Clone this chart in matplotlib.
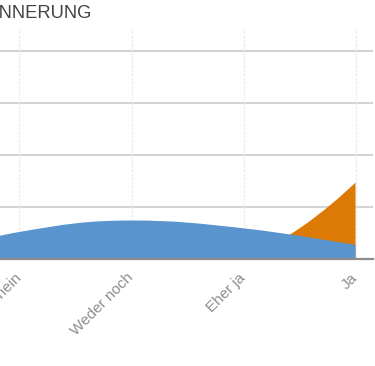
import numpy as np
import matplotlib
matplotlib.use("Agg")
import matplotlib.pyplot as plt
from matplotlib.path import Path
from matplotlib.patches import PathPatch

plt.rcParams['font.family'] = ['Liberation Sans', 'DejaVu Sans']

title = "ERINNERUNG"
categories = ["Nein", "Eher nein", "Weder noch", "Eher ja", "Ja"]
series_blue = [0.0, 5.2, 7.4, 5.9, 2.7]
series_orange = [0.0, 0.0, 0.0, 1.0, 14.7]
y_ticks = [10, 20, 30, 40]

blue = "#5a94cf"
orange = "#dc7a05"


def spline_area(xs, ys, smoothing=1.5):
    # smooth top edge built from cubic bezier segments, flat bottom at 0
    n = len(xs)
    left = [None] * n
    right = [None] * n
    denom = smoothing + 1
    for i in range(1, n - 1):
        x, y = xs[i], ys[i]
        lx, ly = xs[i - 1], ys[i - 1]
        nx, ny = xs[i + 1], ys[i + 1]
        lcx = (smoothing * x + lx) / denom
        lcy = (smoothing * y + ly) / denom
        rcx = (smoothing * x + nx) / denom
        rcy = (smoothing * y + ny) / denom
        corr = (rcy - lcy) * (rcx - x) / (rcx - lcx) + y - rcy
        lcy += corr
        rcy += corr
        if lcy > ly and lcy > y:
            lcy = max(ly, y); rcy = 2 * y - lcy
        elif lcy < ly and lcy < y:
            lcy = min(ly, y); rcy = 2 * y - lcy
        if rcy > ny and rcy > y:
            rcy = max(ny, y); lcy = 2 * y - rcy
        elif rcy < ny and rcy < y:
            rcy = min(ny, y); lcy = 2 * y - rcy
        left[i] = (lcx, lcy)
        right[i] = (rcx, rcy)

    verts = [(xs[0], 0), (xs[0], ys[0])]
    codes = [Path.MOVETO, Path.LINETO]
    for i in range(1, n):
        c1 = right[i - 1] if right[i - 1] is not None else (xs[i - 1], ys[i - 1])
        c2 = left[i] if left[i] is not None else (xs[i], ys[i])
        verts += [c1, c2, (xs[i], ys[i])]
        codes += [Path.CURVE4] * 3
    verts += [(xs[-1], 0), (xs[0], 0)]
    codes += [Path.LINETO, Path.CLOSEPOLY]
    return Path(verts, codes)


fig = plt.figure(figsize=(3.75, 3.66), dpi=100)
ax = fig.add_axes([-110 / 375, 107 / 366, 483 / 375, 231 / 366])

x = np.arange(len(categories))
# orange drawn first, blue on top of it
ax.add_patch(PathPatch(spline_area(x, series_orange), facecolor=orange, edgecolor='none', zorder=2))
ax.add_patch(PathPatch(spline_area(x, series_blue), facecolor=blue, edgecolor='none', zorder=3))

ax.set_xlim(-0.156, len(categories) - 1 + 0.156)
ax.set_ylim(0, 44.4)

ax.set_yticks(y_ticks)
ax.yaxis.grid(True, color='#d4d4d4', linewidth=1.5)
ax.tick_params(axis='y', length=0, labelleft=False)

ax.set_xticks(x)
ax.set_xticklabels(categories, rotation=45, ha='right', va='center',
                   rotation_mode='anchor', fontsize=11, color='#8e8e8e')
ax.tick_params(axis='x', length=0, pad=12)
for xi in x:
    ax.axvline(xi, color='#ececec', linewidth=1, linestyle=(0, (2, 1)), zorder=1)
ax.set_axisbelow(True)

for s in ['top', 'right', 'left']:
    ax.spines[s].set_visible(False)
ax.spines['bottom'].set_color('#8c8c8c')
ax.spines['bottom'].set_linewidth(1.6)
ax.spines['bottom'].set_zorder(4)

fig.text(92 / 375, 1 - 18 / 366, title, ha='right', va='baseline',
         fontsize=13.2, color='#444444')

fig.savefig("out.png", dpi=100)
